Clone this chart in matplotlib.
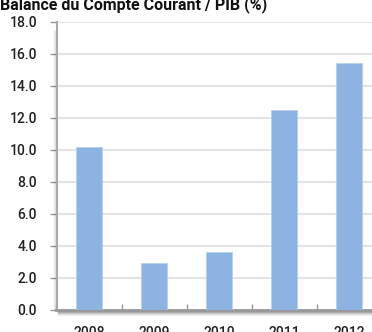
import numpy as np
import matplotlib
matplotlib.use("Agg")
from matplotlib import pyplot as plt

years = ['2008', '2009', '2010', '2011', '2012']
values = [10.2, 2.9, 3.6, 12.5, 15.4]
yticks = [0, 2, 4, 6, 8, 10, 12, 14, 16, 18]
title = "Balance du Compte Courant / PIB (%)"

plt.rcParams['font.family'] = ['Roboto', 'DejaVu Sans']

W, H = 372, 332
fig = plt.figure(figsize=(W / 100, H / 100), dpi=100)
x0, x1 = 56.5, 381.5
y0, y1 = 309.7, 21.7
ax = fig.add_axes([x0 / W, 1 - y0 / H, (x1 - x0) / W, (y0 - y1) / H])

pos = np.arange(len(years))
ax.bar(pos, values, width=0.4, color='#8db3e2', edgecolor='#b8d0ee',
       linewidth=0.6, zorder=3)

ax.set_xlim(-0.5, len(years) - 0.5)
ax.set_ylim(0, 18)
ax.set_yticks(yticks)
ax.set_yticklabels(['%.1f' % v for v in yticks])
ax.yaxis.grid(True, color='#e3e3e3', linewidth=1.5, zorder=0)
ax.set_axisbelow(True)

# category labels centred, tick marks at the boundaries
ax.set_xticks(pos)
ax.set_xticklabels(years)
ax.tick_params(axis='x', length=0, pad=12, labelsize=10, colors='#222222')
ax.set_xticks(np.arange(-0.5, len(years), 1.0), minor=True)
ax.tick_params(axis='x', which='minor', length=4, width=1, color='#999999',
               direction='in')
ax.tick_params(axis='y', length=5, width=1, color='#999999', pad=9,
               labelsize=10, labelcolor='#222222')
for lab in ax.get_yticklabels() + ax.get_xticklabels():
    lab.set_fontweight('medium')

for s in ['top', 'right']:
    ax.spines[s].set_visible(False)
ax.spines['left'].set_color('#aaaaaa')
ax.spines['left'].set_linewidth(1.5)
ax.spines['bottom'].set_color('#999999')
ax.spines['bottom'].set_linewidth(2)

# soft shadow under the base line and left of the value axis
for i, a in enumerate([0.35, 0.25, 0.16, 0.09, 0.04]):
    off = (i + 1.5) / (y0 - y1) * 18
    ax.plot([-0.5 + 0.02, len(years) - 0.5], [-off, -off], color='black',
            alpha=a, linewidth=1, clip_on=False, zorder=1)
for i, a in enumerate([0.10, 0.05, 0.02]):
    off = (i + 1.5) / (x1 - x0) * 5
    ax.plot([-0.5 - off, -0.5 - off], [0, 17.4], color='black', alpha=a,
            linewidth=1, clip_on=False, zorder=1)

fig.text(0.0, 1 - 9 / H, title, fontsize=11.5, fontweight='bold',
         color='#111111', ha='left', va='baseline')

fig.savefig("out.png", dpi=100)
